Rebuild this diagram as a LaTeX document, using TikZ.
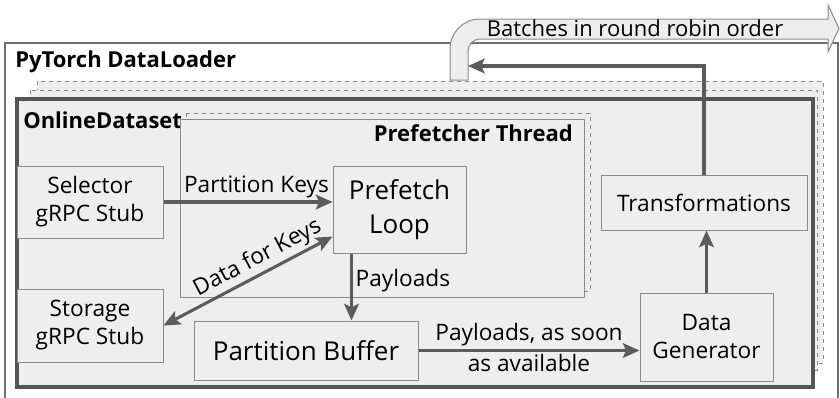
\documentclass[tikz,border=0pt]{standalone}
\usepackage{fontspec}
\setmainfont{Open Sans}
\usetikzlibrary{positioning,calc,arrows.meta}

\definecolor{boxfill}{HTML}{EEEEEE}
\definecolor{boxline}{HTML}{8A8A8A}
\definecolor{flowline}{HTML}{5C5C5C}
\definecolor{frameline}{HTML}{555555}
\definecolor{loaderline}{HTML}{707070}

\begin{document}
\begin{tikzpicture}[x=0.75pt, y=-0.75pt,
    box/.style={draw=boxline, fill=boxfill, line width=0.75pt, align=center, inner sep=0pt, font=\fontsize{17}{21}\selectfont},
    bigbox/.style={box, font=\fontsize{19.5}{25.5}\selectfont},
    flow/.style={draw=flowline, line width=2.3pt, ->, >={Stealth[length=12.5pt, width=11pt, inset=2.5pt]}},
    flowtext/.style={font=\fontsize{17}{21}\selectfont, inner sep=2pt},
    heading/.style={font=\fontsize{16.5}{20}\bfseries\selectfont, inner sep=0pt},
    ghost/.style={draw=boxline, fill=boxfill, dashed, line width=0.6pt}]
    \useasboundingbox (0,0) rectangle (840,397);
    \clip (0,0) rectangle (840,397);

    % data loader
    \draw[draw=loaderline, line width=0.8pt] (5,43) rectangle (838,420);
    \node (Loader) [heading, anchor=west] at (15,62) {PyTorch DataLoader};

    % worker copies of the dataset
    \draw[ghost] (37,81) rectangle (823,363);
    \draw[ghost] (30,90) rectangle (817,370);
    \draw[draw=frameline, fill=boxfill, line width=2.4pt] (17,99) rectangle (813,387);
    \node (Dataset) [heading, anchor=west] at (23,120) {OnlineDataset};

    % prefetcher thread
    \draw[ghost] (186,113) rectangle (590,291);
    \draw[draw=boxline, fill=boxfill, line width=0.75pt] (180,119) rectangle (584,297);
    \node (Thread) [heading, anchor=east] at (573,133) {Prefetcher Thread};

    % output of the loader
    \draw[draw=boxline, fill=boxfill, line width=0.75pt]
        (450,80) -- (450,49) .. controls (450,32.4) and (463.4,19) .. (480,19)
        -- (828,19) -- (828,5) -- (839,28.5) -- (828,52) -- (828,39) -- (480,39)
        .. controls (473.4,39) and (468,44.4) .. (468,51) -- (468,80) -- cycle;
    \node (Batches) [flowtext, anchor=west, font=\fontsize{16.5}{20}\selectfont] at (484,28) {Batches in round robin order};
    \coordinate (BatchIn) at (468,66);

    \node (Selector) [box, minimum width=109.5pt, minimum height=54pt] at (90,202)
    {Selector\\gRPC Stub};
    \node (Storage) [box, minimum width=109.5pt, minimum height=54.75pt] at (90,325.5)
    {Storage\\gRPC Stub};
    \node (Loop) [bigbox, minimum width=99.75pt, minimum height=65.25pt] at (399.5,209.5)
    {Prefetch\\Loop};
    \node (Buffer) [bigbox, minimum width=168pt, minimum height=44.25pt] at (306,350.5)
    {Partition Buffer};
    \node (Generator) [box, minimum width=99.75pt, minimum height=66pt] at (706.5,337)
    {Data\\Generator};
    \node (Transform) [box, minimum width=154.5pt, minimum height=41.25pt] at (704,202.5)
    {Transformations};

    \draw[flow] (Selector.east) -- (Selector.east -| Loop.west)
        node[flowtext, pos=0.55, above] {Partition Keys};
    \draw[flow, <->] (Storage.east) -- (Loop.202)
        node[flowtext, pos=0.6, above, sloped] {Data for Keys};
    \draw[flow] ($(Loop.south west)+(19,0)$) coordinate (Drop) -- (Drop |- Buffer.north)
        node[flowtext, pos=0.4, right] {Payloads};
    \draw[flow] (Buffer.east) -- (Buffer.east -| Generator.west)
        node[flowtext, midway, above] {Payloads, as soon}
        node[flowtext, midway, below] {as available};
    \draw[flow] (Generator.north) -- (Generator.north |- Transform.south);
    \draw[flow] (Transform.north) |- (BatchIn);
\end{tikzpicture}
\end{document}
